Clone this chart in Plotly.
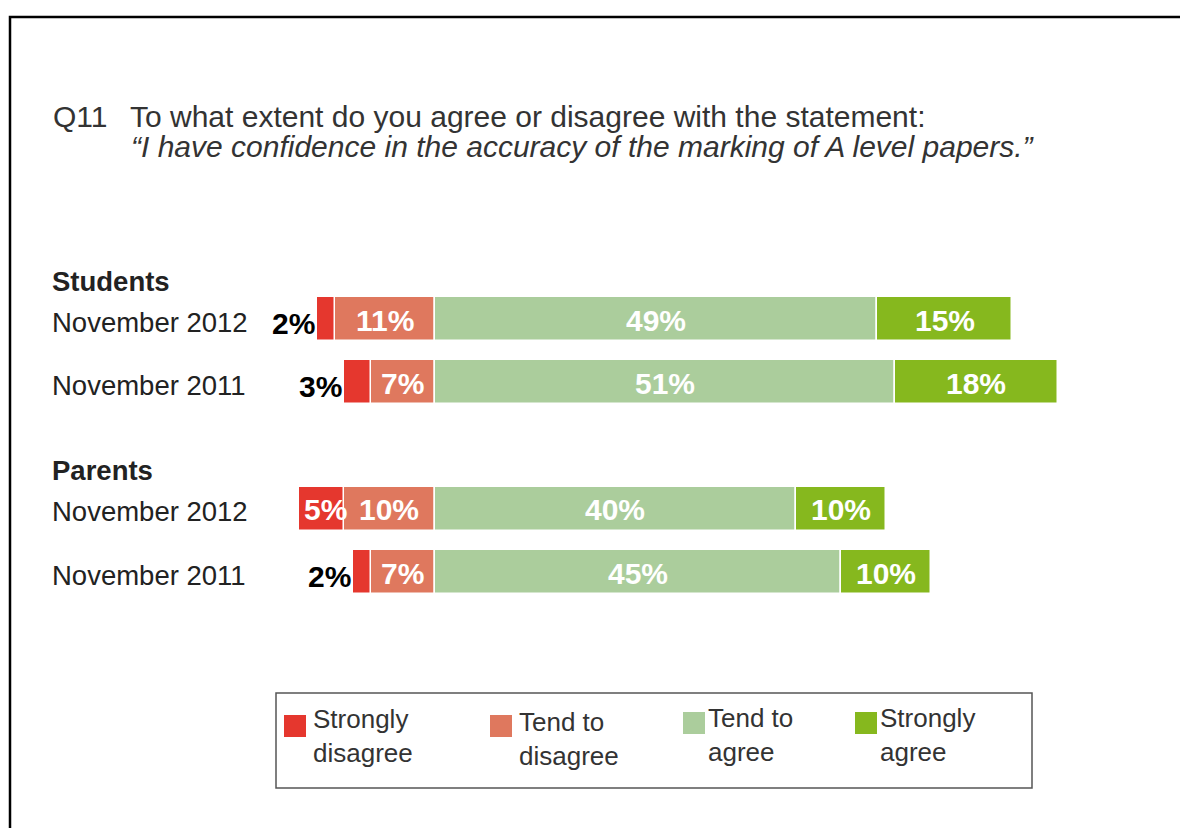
import plotly.graph_objects as go

# ---- data -------------------------------------------------------------
groups = ["Students", "Parents"]
rows = ["November 2012", "November 2011", "November 2012", "November 2011"]
row_group = [0, 0, 1, 1]
strongly_disagree = [2, 3, 5, 2]
tend_to_disagree = [11, 7, 10, 7]
tend_to_agree = [49, 51, 40, 45]
strongly_agree = [15, 18, 10, 10]

series_names = ["Strongly disagree", "Tend to disagree", "Tend to agree", "Strongly agree"]
legend_labels = ["Strongly<br>disagree", "Tend to<br>disagree", "Tend to<br>agree", "Strongly<br>agree"]
series_colors = ["#E5372E", "#DF785E", "#ABCD9C", "#86B81E"]

question_no = "Q11"
title_line1 = "To what extent do you agree or disagree with the statement:"
title_line2 = "\u201cI have confidence in the accuracy of the marking of A level papers.\u201d"

# ---- layout helpers ---------------------------------------------------
W, H = 1180, 828
ZERO_PX = 434.5        # horizontal position of the 0% divide
PX_PER_PCT = 9.03
ROW0_PX = 319          # centre of the first bar row
ROW_PITCH = 63.25
FONT = "Liberation Sans, Arial, sans-serif"

# rows sit at 0,1 (Students) and 3,4 (Parents): one blank row between groups
row_y = [i + g for i, g in enumerate(row_group)]


def px(x):
    return x / W


def py(y):
    return 1 - y / H


fig = go.Figure()

# disagree side is stacked outward from zero as negative values
stack = [
    (series_names[1], [-v for v in tend_to_disagree], series_colors[1]),
    (series_names[0], [-v for v in strongly_disagree], series_colors[0]),
    (series_names[2], tend_to_agree, series_colors[2]),
    (series_names[3], strongly_agree, series_colors[3]),
]
for name, vals, col in stack:
    fig.add_trace(go.Bar(
        x=vals, y=row_y, orientation="h", name=name,
        marker=dict(color=col, line=dict(color="white", width=1.5)),
        width=0.7, showlegend=False, hoverinfo="skip",
    ))

annotations = []
label_font = dict(family=FONT, size=30, color="white")
for i, yv in enumerate(row_y):
    td, sd, ta, sa = tend_to_disagree[i], strongly_disagree[i], tend_to_agree[i], strongly_agree[i]
    # inside labels at segment centres
    for val, cx in [(td, -td / 2), (ta, ta / 2), (sa, ta + sa / 2)]:
        annotations.append(dict(x=cx, y=yv, xref="x", yref="y", text=f"<b>{val}%</b>",
                                showarrow=False, font=label_font, yshift=-1))
    if sd >= 4:
        annotations.append(dict(x=-td - sd / 2, y=yv, xref="x", yref="y", text=f"<b>{sd}%</b>",
                                showarrow=False, font=label_font, yshift=-1, xshift=4))
    else:
        annotations.append(dict(x=-td - sd, y=yv, xref="x", yref="y", text=f"<b>{sd}%</b>",
                                showarrow=False, xanchor="right", xshift=0, yshift=-4,
                                font=dict(family=FONT, size=30, color="black")))
    # row label
    annotations.append(dict(x=px(50), y=yv, xref="paper", yref="y", text=rows[i],
                            showarrow=False, xanchor="left", yshift=-3,
                            font=dict(family=FONT, size=27.5, color="#222222")))

# group headings
for g, name in enumerate(groups):
    first = row_y[row_group.index(g)]
    annotations.append(dict(x=px(50), y=first - 0.6, xref="paper", yref="y", text=f"<b>{name}</b>",
                            showarrow=False, xanchor="left",
                            font=dict(family=FONT, size=27.5, color="#222222")))

# question text
title_font = dict(family=FONT, size=30, color="#333333")
annotations.append(dict(x=px(51), y=py(117), xref="paper", yref="paper", text=question_no,
                        showarrow=False, xanchor="left", yanchor="middle", font=title_font))
annotations.append(dict(x=px(128), y=py(117), xref="paper", yref="paper", text=title_line1,
                        showarrow=False, xanchor="left", yanchor="middle", font=title_font))
annotations.append(dict(x=px(129), y=py(146), xref="paper", yref="paper", text=f"<i>{title_line2}</i>",
                        showarrow=False, xanchor="left", yanchor="middle", font=title_font))

shapes = []
# outer frame (left and top edges)
shapes.append(dict(type="path", xref="paper", yref="paper",
                   path=f"M {px(10)} {py(828)} L {px(10)} {py(17)} L {px(1180)} {py(17)}",
                   line=dict(color="black", width=2.5)))

# legend box
shapes.append(dict(type="rect", xref="paper", yref="paper",
                   x0=px(276), x1=px(1032), y0=py(788), y1=py(693),
                   line=dict(color="#555555", width=1.5), fillcolor="white"))
legend_sq_x = [284, 490, 683, 855]
legend_sq_y = [715, 715, 712, 712]
legend_txt_x = [311, 517, 706, 878]
legend_txt_mid = [736, 739, 735, 735]
for k in range(4):
    shapes.append(dict(type="rect", xref="paper", yref="paper",
                       x0=px(legend_sq_x[k]), x1=px(legend_sq_x[k] + 22),
                       y0=py(legend_sq_y[k] + 22), y1=py(legend_sq_y[k]),
                       line=dict(width=0), fillcolor=series_colors[k]))
    annotations.append(dict(x=px(legend_txt_x[k]), y=py(legend_txt_mid[k]),
                            xref="paper", yref="paper", text=legend_labels[k], showarrow=False,
                            xanchor="left", yanchor="middle", align="left",
                            font=dict(family=FONT, size=26, color="#333333")))

fig.update_layout(
    width=W, height=H,
    margin=dict(l=0, r=0, t=0, b=0),
    paper_bgcolor="white", plot_bgcolor="white",
    barmode="relative", bargap=0,
    xaxis=dict(range=[-ZERO_PX / PX_PER_PCT, (W - ZERO_PX) / PX_PER_PCT],
               visible=False, fixedrange=True),
    yaxis=dict(range=[(H - ROW0_PX) / ROW_PITCH, -ROW0_PX / ROW_PITCH],
               visible=False, fixedrange=True),
    annotations=annotations,
    shapes=shapes,
    showlegend=False,
)

fig.write_html("out.html")
